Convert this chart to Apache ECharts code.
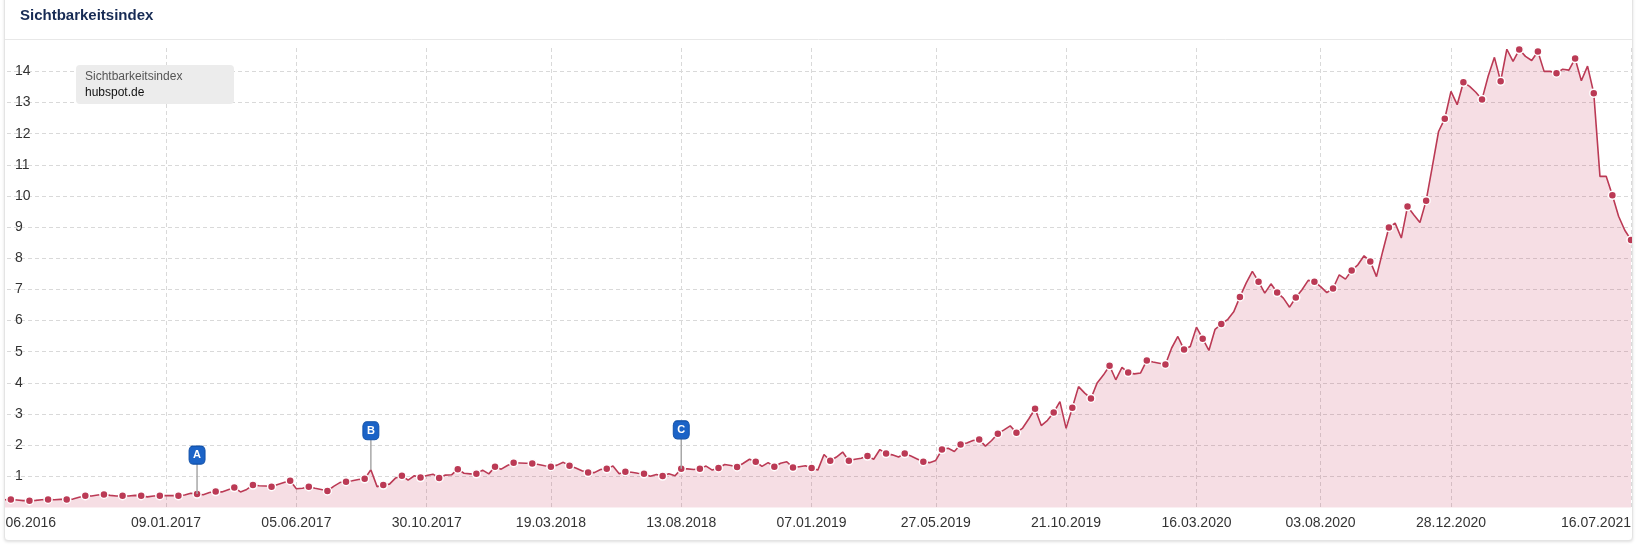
<!DOCTYPE html>
<html>
<head>
<meta charset="utf-8">
<script src="https://cdn.jsdelivr.net/npm/echarts@6/dist/echarts.min.js"></script>
<style>
  html, body { margin: 0; padding: 0; background: #fff; }
  body { width: 1636px; height: 545px; position: relative; overflow: hidden; }
  #card {
    position: absolute; left: 4px; top: -10px; width: 1627px; height: 549px;
    border: 1px solid #e4e4e4; border-radius: 4px; background: #fff;
    box-shadow: 0 1px 3px rgba(0, 0, 0, 0.13); overflow: hidden;
  }
  #chart { position: absolute; left: -5px; top: 9px; width: 1636px; height: 545px; }
</style>
</head>
<body>
<div id="card"><div id="chart"></div></div>
<script>
// weekly visibility index of hubspot.de, first week 20.06.2016
const visibility = [
  0.25, 0.25, 0.24, 0.25, 0.26, 0.24, 0.22, 0.22, 0.23, 0.25, 0.26, 0.25, 0.26, 0.26, 0.27, 0.33,
  0.38, 0.37, 0.40, 0.42, 0.39, 0.37, 0.38, 0.37, 0.39, 0.38, 0.34, 0.37, 0.38, 0.38, 0.38, 0.38,
  0.40, 0.46, 0.43, 0.41, 0.48, 0.51, 0.50, 0.57, 0.64, 0.50, 0.58, 0.72, 0.70, 0.69, 0.67, 0.74,
  0.80, 0.86, 0.60, 0.62, 0.67, 0.62, 0.58, 0.53, 0.68, 0.80, 0.83, 0.86, 0.90, 0.92, 1.21, 0.67,
  0.72, 0.75, 0.95, 1.02, 0.88, 1.02, 0.96, 1.03, 1.07, 0.95, 1.04, 1.05, 1.23, 1.10, 1.08, 1.08,
  1.20, 1.08, 1.31, 1.23, 1.35, 1.44, 1.43, 1.42, 1.41, 1.38, 1.34, 1.31, 1.36, 1.45, 1.34, 1.27,
  1.18, 1.12, 1.12, 1.22, 1.24, 1.33, 1.08, 1.15, 1.13, 1.10, 1.08, 1.00, 1.06, 1.01, 1.08, 1.02,
  1.24, 1.24, 1.22, 1.24, 1.33, 1.20, 1.27, 1.38, 1.35, 1.30, 1.42, 1.55, 1.47, 1.32, 1.44, 1.31,
  1.42, 1.47, 1.28, 1.31, 1.34, 1.27, 1.20, 1.70, 1.50, 1.62, 1.78, 1.50, 1.55, 1.58, 1.65, 1.55,
  1.86, 1.73, 1.69, 1.62, 1.73, 1.65, 1.56, 1.47, 1.44, 1.51, 1.86, 1.90, 1.80, 2.02, 2.07, 2.15,
  2.18, 1.97, 2.15, 2.37, 2.49, 2.62, 2.40, 2.55, 2.85, 3.17, 2.63, 2.80, 3.05, 3.40, 2.54, 3.20,
  3.88, 3.67, 3.50, 4.00, 4.25, 4.55, 4.10, 4.50, 4.33, 4.29, 4.32, 4.72, 4.67, 4.63, 4.59, 5.12,
  5.49, 5.07, 5.17, 5.79, 5.42, 5.04, 5.72, 5.89, 6.03, 6.28, 6.76, 7.20, 7.58, 7.25, 6.88, 7.18,
  6.90, 6.72, 6.43, 6.74, 6.99, 7.29, 7.25, 7.09, 6.90, 7.03, 7.47, 7.33, 7.61, 7.79, 8.08, 7.90,
  7.41, 8.22, 8.99, 9.13, 8.65, 9.66, 9.40, 9.15, 9.85, 10.95, 12.07, 12.48, 13.36, 12.93, 13.65, 13.52,
  13.33, 13.10, 13.85, 14.45, 13.68, 14.71, 14.32, 14.70, 14.48, 14.35, 14.64, 14.00, 14.00, 13.94, 14.07, 14.04,
  14.41, 13.70, 14.17, 13.30, 10.63, 10.63, 10.02, 9.35, 8.90, 8.59
];

// x axis labels / vertical grid lines
const labelDates = ['20.06.2016', '09.01.2017', '05.06.2017', '30.10.2017', '19.03.2018', '13.08.2018',
  '07.01.2019', '27.05.2019', '21.10.2019', '16.03.2020', '03.08.2020', '28.12.2020', '16.07.2021'];

// event flags
const flagLetters = ['A', 'B', 'C'];
const flagDates = ['13.02.2017', '28.08.2017', '13.08.2018'];

// one category per week, last value is from 16.07.2021
const dates = [];
for (let i = 0; i < visibility.length; i++) {
  const d = new Date(Date.UTC(2016, 5, 20 + i * 7));
  const dd = String(d.getUTCDate()).padStart(2, '0');
  const mm = String(d.getUTCMonth() + 1).padStart(2, '0');
  dates.push(dd + '.' + mm + '.' + d.getUTCFullYear());
}
dates[dates.length - 1] = '16.07.2021';

const FONT = '"Liberation Sans", Arial, sans-serif';
const isLabel = (i, v) => labelDates.indexOf(v) >= 0;

const flagMarks = [];
flagDates.forEach((d, k) => {
  const coord = [d, visibility[dates.indexOf(d)]];
  flagMarks.push({
    coord: coord, symbol: 'rect', symbolSize: [1.5, 30], symbolOffset: [0, -15],
    itemStyle: { color: '#a8a8a8' }, label: { show: false }
  });
  flagMarks.push({
    coord: coord, symbol: 'roundRect', symbolSize: [16, 18], symbolOffset: [0, -39],
    itemStyle: { color: '#1b63c7', borderColor: '#1150a8', borderWidth: 1 },
    label: { show: true, position: 'inside', formatter: flagLetters[k], color: '#fff',
             fontSize: 11, fontWeight: 'bold', fontFamily: FONT }
  });
});

const chart = echarts.init(document.getElementById('chart'));
chart.setOption({
  animation: false,
  grid: { left: -14, right: 5, top: 48, bottom: 37.5, containLabel: false, outerBoundsMode: 'none' },
  xAxis: {
    type: 'category',
    boundaryGap: false,
    data: dates,
    axisLine: { show: false },
    axisTick: { show: false },
    axisLabel: {
      interval: isLabel, color: '#333', fontSize: 14, fontFamily: FONT, margin: 9,
      alignMinLabel: 'left', alignMaxLabel: 'right'
    },
    splitLine: { show: true, interval: isLabel, lineStyle: { color: '#d9d9d9', type: [4, 3], width: 1 } }
  },
  yAxis: {
    type: 'value',
    min: 0, max: 14.75, interval: 1,
    axisLine: { show: false },
    axisTick: { show: false },
    axisLabel: { inside: true, margin: 29, color: '#333', fontSize: 14, fontFamily: FONT,
                 showMinLabel: false, showMaxLabel: false },
    splitLine: { show: true, showMinLine: false, showMaxLine: false,
                 lineStyle: { color: '#d9d9d9', type: [4, 3], width: 1 } }
  },
  series: [{
    type: 'line',
    data: visibility,
    showAllSymbol: true,
    symbol: (v, p) => (p.dataIndex % 3 === 1 ? 'circle' : 'none'),
    symbolSize: 8,
    itemStyle: { color: '#bb3a55', borderColor: '#fff', borderWidth: 1.5 },
    lineStyle: { color: '#bb3a55', width: 1.6 },
    areaStyle: { color: 'rgba(196, 40, 76, 0.22)' },
    emphasis: { disabled: true },
    markPoint: { silent: true, animation: false, data: flagMarks }
  }],
  graphic: [
    { type: 'text', left: 20, top: 8,
      style: { text: 'Sichtbarkeitsindex', fill: '#172b54', font: 'bold 15px ' + FONT } },
    { type: 'line', shape: { x1: 5, y1: 39.5, x2: 1632, y2: 39.5 },
      style: { stroke: '#e8e8e8', lineWidth: 1 } },
    { type: 'rect', z: 100, shape: { x: 76, y: 65, width: 158, height: 39, r: 4 },
      style: { fill: '#ececec' } },
    { type: 'text', z: 101, x: 85, y: 77,
      style: { text: 'Sichtbarkeitsindex', fill: '#555', font: '12px ' + FONT, verticalAlign: 'middle' } },
    { type: 'text', z: 101, x: 85, y: 93,
      style: { text: 'hubspot.de', fill: '#111', font: '12px ' + FONT, verticalAlign: 'middle' } }
  ]
});
</script>
</body>
</html>
